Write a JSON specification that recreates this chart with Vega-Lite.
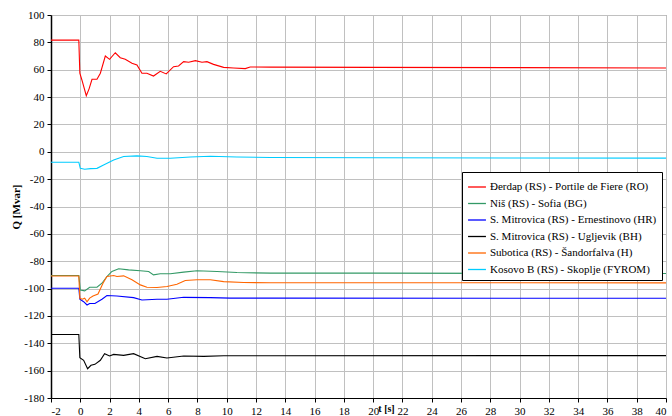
{
  "$schema": "https://vega.github.io/schema/vega-lite/v6.json",
  "width": 615,
  "height": 383,
  "autosize": {"type": "none"},
  "padding": {"left": 51, "top": 15, "right": 6, "bottom": 18},
  "background": "white",
  "config": {
    "view": {"stroke": "#808080", "strokeWidth": 1},
    "font": "Liberation Serif"
  },
  "datasets": {
    "d": [
      {"t": -2, "q": 81.6, "s": "Đerdap (RS) - Portile de Fiere (RO)"},
      {"t": -0.1, "q": 81.6, "s": "Đerdap (RS) - Portile de Fiere (RO)"},
      {"t": -0.03, "q": 57.4, "s": "Đerdap (RS) - Portile de Fiere (RO)"},
      {"t": 0.11, "q": 52.5, "s": "Đerdap (RS) - Portile de Fiere (RO)"},
      {"t": 0.41, "q": 41, "s": "Đerdap (RS) - Portile de Fiere (RO)"},
      {"t": 0.6, "q": 46, "s": "Đerdap (RS) - Portile de Fiere (RO)"},
      {"t": 0.8, "q": 53, "s": "Đerdap (RS) - Portile de Fiere (RO)"},
      {"t": 1.14, "q": 53, "s": "Đerdap (RS) - Portile de Fiere (RO)"},
      {"t": 1.37, "q": 57.4, "s": "Đerdap (RS) - Portile de Fiere (RO)"},
      {"t": 1.71, "q": 70, "s": "Đerdap (RS) - Portile de Fiere (RO)"},
      {"t": 2.0, "q": 67.6, "s": "Đerdap (RS) - Portile de Fiere (RO)"},
      {"t": 2.39, "q": 72.4, "s": "Đerdap (RS) - Portile de Fiere (RO)"},
      {"t": 2.73, "q": 68.8, "s": "Đerdap (RS) - Portile de Fiere (RO)"},
      {"t": 3.07, "q": 67.6, "s": "Đerdap (RS) - Portile de Fiere (RO)"},
      {"t": 3.53, "q": 64.7, "s": "Đerdap (RS) - Portile de Fiere (RO)"},
      {"t": 3.87, "q": 63.5, "s": "Đerdap (RS) - Portile de Fiere (RO)"},
      {"t": 4.21, "q": 57.4, "s": "Đerdap (RS) - Portile de Fiere (RO)"},
      {"t": 4.55, "q": 57.4, "s": "Đerdap (RS) - Portile de Fiere (RO)"},
      {"t": 5.0, "q": 55.4, "s": "Đerdap (RS) - Portile de Fiere (RO)"},
      {"t": 5.46, "q": 58.8, "s": "Đerdap (RS) - Portile de Fiere (RO)"},
      {"t": 5.87, "q": 56.9, "s": "Đerdap (RS) - Portile de Fiere (RO)"},
      {"t": 6.37, "q": 62.2, "s": "Đerdap (RS) - Portile de Fiere (RO)"},
      {"t": 6.71, "q": 62.7, "s": "Đerdap (RS) - Portile de Fiere (RO)"},
      {"t": 7.06, "q": 65.9, "s": "Đerdap (RS) - Portile de Fiere (RO)"},
      {"t": 7.4, "q": 65.5, "s": "Đerdap (RS) - Portile de Fiere (RO)"},
      {"t": 7.86, "q": 66.6, "s": "Đerdap (RS) - Portile de Fiere (RO)"},
      {"t": 8.31, "q": 65.5, "s": "Đerdap (RS) - Portile de Fiere (RO)"},
      {"t": 8.65, "q": 65.9, "s": "Đerdap (RS) - Portile de Fiere (RO)"},
      {"t": 9.1, "q": 63.9, "s": "Đerdap (RS) - Portile de Fiere (RO)"},
      {"t": 9.79, "q": 61.7, "s": "Đerdap (RS) - Portile de Fiere (RO)"},
      {"t": 10.47, "q": 61.2, "s": "Đerdap (RS) - Portile de Fiere (RO)"},
      {"t": 11.27, "q": 60.8, "s": "Đerdap (RS) - Portile de Fiere (RO)"},
      {"t": 11.6, "q": 62.0, "s": "Đerdap (RS) - Portile de Fiere (RO)"},
      {"t": 13, "q": 61.9, "s": "Đerdap (RS) - Portile de Fiere (RO)"},
      {"t": 20, "q": 61.7, "s": "Đerdap (RS) - Portile de Fiere (RO)"},
      {"t": 30, "q": 61.5, "s": "Đerdap (RS) - Portile de Fiere (RO)"},
      {"t": 40, "q": 61.3, "s": "Đerdap (RS) - Portile de Fiere (RO)"},

      {"t": -2, "q": -90.4, "s": "Niš (RS) - Sofia (BG)"},
      {"t": -0.1, "q": -90.4, "s": "Niš (RS) - Sofia (BG)"},
      {"t": 0, "q": -101, "s": "Niš (RS) - Sofia (BG)"},
      {"t": 0.3, "q": -101.7, "s": "Niš (RS) - Sofia (BG)"},
      {"t": 0.64, "q": -99, "s": "Niš (RS) - Sofia (BG)"},
      {"t": 1.14, "q": -99, "s": "Niš (RS) - Sofia (BG)"},
      {"t": 1.48, "q": -96.1, "s": "Niš (RS) - Sofia (BG)"},
      {"t": 1.82, "q": -91.2, "s": "Niš (RS) - Sofia (BG)"},
      {"t": 2.16, "q": -87.5, "s": "Niš (RS) - Sofia (BG)"},
      {"t": 2.62, "q": -85.5, "s": "Niš (RS) - Sofia (BG)"},
      {"t": 3.3, "q": -86.3, "s": "Niš (RS) - Sofia (BG)"},
      {"t": 4.1, "q": -87, "s": "Niš (RS) - Sofia (BG)"},
      {"t": 4.67, "q": -87.5, "s": "Niš (RS) - Sofia (BG)"},
      {"t": 5.0, "q": -90, "s": "Niš (RS) - Sofia (BG)"},
      {"t": 5.46, "q": -89.2, "s": "Niš (RS) - Sofia (BG)"},
      {"t": 6.15, "q": -89.2, "s": "Niš (RS) - Sofia (BG)"},
      {"t": 7.06, "q": -88, "s": "Niš (RS) - Sofia (BG)"},
      {"t": 7.97, "q": -87, "s": "Niš (RS) - Sofia (BG)"},
      {"t": 9.34, "q": -87.5, "s": "Niš (RS) - Sofia (BG)"},
      {"t": 10.7, "q": -88.3, "s": "Niš (RS) - Sofia (BG)"},
      {"t": 13, "q": -88.7, "s": "Niš (RS) - Sofia (BG)"},
      {"t": 20, "q": -88.7, "s": "Niš (RS) - Sofia (BG)"},
      {"t": 30, "q": -88.9, "s": "Niš (RS) - Sofia (BG)"},
      {"t": 40, "q": -89, "s": "Niš (RS) - Sofia (BG)"},

      {"t": -2, "q": -99.8, "s": "S. Mitrovica (RS) - Ernestinovo (HR)"},
      {"t": -0.1, "q": -99.8, "s": "S. Mitrovica (RS) - Ernestinovo (HR)"},
      {"t": -0.03, "q": -107.8, "s": "S. Mitrovica (RS) - Ernestinovo (HR)"},
      {"t": 0.23, "q": -109.6, "s": "S. Mitrovica (RS) - Ernestinovo (HR)"},
      {"t": 0.46, "q": -112, "s": "S. Mitrovica (RS) - Ernestinovo (HR)"},
      {"t": 0.64, "q": -110.9, "s": "S. Mitrovica (RS) - Ernestinovo (HR)"},
      {"t": 1.0, "q": -110.9, "s": "S. Mitrovica (RS) - Ernestinovo (HR)"},
      {"t": 1.48, "q": -107.8, "s": "S. Mitrovica (RS) - Ernestinovo (HR)"},
      {"t": 1.82, "q": -105.1, "s": "S. Mitrovica (RS) - Ernestinovo (HR)"},
      {"t": 2.5, "q": -105.4, "s": "S. Mitrovica (RS) - Ernestinovo (HR)"},
      {"t": 3.64, "q": -106.6, "s": "S. Mitrovica (RS) - Ernestinovo (HR)"},
      {"t": 4.21, "q": -108.3, "s": "S. Mitrovica (RS) - Ernestinovo (HR)"},
      {"t": 5.24, "q": -107.8, "s": "S. Mitrovica (RS) - Ernestinovo (HR)"},
      {"t": 5.92, "q": -107.8, "s": "S. Mitrovica (RS) - Ernestinovo (HR)"},
      {"t": 7.06, "q": -106.4, "s": "S. Mitrovica (RS) - Ernestinovo (HR)"},
      {"t": 8.88, "q": -106.6, "s": "S. Mitrovica (RS) - Ernestinovo (HR)"},
      {"t": 10.25, "q": -107, "s": "S. Mitrovica (RS) - Ernestinovo (HR)"},
      {"t": 13, "q": -107, "s": "S. Mitrovica (RS) - Ernestinovo (HR)"},
      {"t": 40, "q": -107.1, "s": "S. Mitrovica (RS) - Ernestinovo (HR)"},

      {"t": -2, "q": -133.6, "s": "S. Mitrovica (RS) - Ugljevik (BH)"},
      {"t": -0.1, "q": -133.6, "s": "S. Mitrovica (RS) - Ugljevik (BH)"},
      {"t": -0.03, "q": -150.5, "s": "S. Mitrovica (RS) - Ugljevik (BH)"},
      {"t": 0.23, "q": -152.4, "s": "S. Mitrovica (RS) - Ugljevik (BH)"},
      {"t": 0.5, "q": -158.6, "s": "S. Mitrovica (RS) - Ugljevik (BH)"},
      {"t": 0.73, "q": -156.1, "s": "S. Mitrovica (RS) - Ugljevik (BH)"},
      {"t": 1.0, "q": -155.4, "s": "S. Mitrovica (RS) - Ugljevik (BH)"},
      {"t": 1.37, "q": -152.4, "s": "S. Mitrovica (RS) - Ugljevik (BH)"},
      {"t": 1.66, "q": -147.6, "s": "S. Mitrovica (RS) - Ugljevik (BH)"},
      {"t": 2.0, "q": -149.3, "s": "S. Mitrovica (RS) - Ugljevik (BH)"},
      {"t": 2.28, "q": -148.1, "s": "S. Mitrovica (RS) - Ugljevik (BH)"},
      {"t": 2.96, "q": -148.8, "s": "S. Mitrovica (RS) - Ugljevik (BH)"},
      {"t": 3.64, "q": -147.6, "s": "S. Mitrovica (RS) - Ugljevik (BH)"},
      {"t": 4.44, "q": -151.3, "s": "S. Mitrovica (RS) - Ugljevik (BH)"},
      {"t": 5.24, "q": -149.6, "s": "S. Mitrovica (RS) - Ugljevik (BH)"},
      {"t": 5.92, "q": -150.8, "s": "S. Mitrovica (RS) - Ugljevik (BH)"},
      {"t": 7.06, "q": -149.3, "s": "S. Mitrovica (RS) - Ugljevik (BH)"},
      {"t": 8.43, "q": -149.6, "s": "S. Mitrovica (RS) - Ugljevik (BH)"},
      {"t": 9.79, "q": -149.1, "s": "S. Mitrovica (RS) - Ugljevik (BH)"},
      {"t": 13, "q": -149.1, "s": "S. Mitrovica (RS) - Ugljevik (BH)"},
      {"t": 40, "q": -149, "s": "S. Mitrovica (RS) - Ugljevik (BH)"},

      {"t": -2, "q": -90.8, "s": "Subotica (RS) - Šandorfalva (H)"},
      {"t": -0.1, "q": -90.8, "s": "Subotica (RS) - Šandorfalva (H)"},
      {"t": -0.03, "q": -107.1, "s": "Subotica (RS) - Šandorfalva (H)"},
      {"t": 0.14, "q": -107.8, "s": "Subotica (RS) - Šandorfalva (H)"},
      {"t": 0.3, "q": -107, "s": "Subotica (RS) - Šandorfalva (H)"},
      {"t": 0.46, "q": -109.6, "s": "Subotica (RS) - Šandorfalva (H)"},
      {"t": 0.64, "q": -107, "s": "Subotica (RS) - Šandorfalva (H)"},
      {"t": 0.87, "q": -105.4, "s": "Subotica (RS) - Šandorfalva (H)"},
      {"t": 1.21, "q": -104, "s": "Subotica (RS) - Šandorfalva (H)"},
      {"t": 1.55, "q": -96.1, "s": "Subotica (RS) - Šandorfalva (H)"},
      {"t": 1.82, "q": -91.2, "s": "Subotica (RS) - Šandorfalva (H)"},
      {"t": 2.28, "q": -90.5, "s": "Subotica (RS) - Šandorfalva (H)"},
      {"t": 2.5, "q": -91.2, "s": "Subotica (RS) - Šandorfalva (H)"},
      {"t": 2.96, "q": -90.7, "s": "Subotica (RS) - Šandorfalva (H)"},
      {"t": 3.53, "q": -93.6, "s": "Subotica (RS) - Šandorfalva (H)"},
      {"t": 4.1, "q": -97.3, "s": "Subotica (RS) - Šandorfalva (H)"},
      {"t": 4.55, "q": -99, "s": "Subotica (RS) - Šandorfalva (H)"},
      {"t": 5.24, "q": -99.2, "s": "Subotica (RS) - Šandorfalva (H)"},
      {"t": 5.92, "q": -98.5, "s": "Subotica (RS) - Šandorfalva (H)"},
      {"t": 6.6, "q": -96.8, "s": "Subotica (RS) - Šandorfalva (H)"},
      {"t": 7.17, "q": -94.1, "s": "Subotica (RS) - Šandorfalva (H)"},
      {"t": 7.97, "q": -93.6, "s": "Subotica (RS) - Šandorfalva (H)"},
      {"t": 8.88, "q": -93.6, "s": "Subotica (RS) - Šandorfalva (H)"},
      {"t": 9.79, "q": -94.9, "s": "Subotica (RS) - Šandorfalva (H)"},
      {"t": 11.15, "q": -95.6, "s": "Subotica (RS) - Šandorfalva (H)"},
      {"t": 13, "q": -95.7, "s": "Subotica (RS) - Šandorfalva (H)"},
      {"t": 40, "q": -95.8, "s": "Subotica (RS) - Šandorfalva (H)"},

      {"t": -2, "q": -7.6, "s": "Kosovo B (RS) - Skoplje (FYROM)"},
      {"t": -0.1, "q": -7.6, "s": "Kosovo B (RS) - Skoplje (FYROM)"},
      {"t": 0, "q": -12.1, "s": "Kosovo B (RS) - Skoplje (FYROM)"},
      {"t": 0.3, "q": -12.8, "s": "Kosovo B (RS) - Skoplje (FYROM)"},
      {"t": 0.7, "q": -12.3, "s": "Kosovo B (RS) - Skoplje (FYROM)"},
      {"t": 1.14, "q": -12.1, "s": "Kosovo B (RS) - Skoplje (FYROM)"},
      {"t": 1.59, "q": -9.6, "s": "Kosovo B (RS) - Skoplje (FYROM)"},
      {"t": 2.28, "q": -6.0, "s": "Kosovo B (RS) - Skoplje (FYROM)"},
      {"t": 2.96, "q": -3.5, "s": "Kosovo B (RS) - Skoplje (FYROM)"},
      {"t": 3.87, "q": -3.0, "s": "Kosovo B (RS) - Skoplje (FYROM)"},
      {"t": 4.55, "q": -3.5, "s": "Kosovo B (RS) - Skoplje (FYROM)"},
      {"t": 5.24, "q": -4.7, "s": "Kosovo B (RS) - Skoplje (FYROM)"},
      {"t": 6.15, "q": -4.7, "s": "Kosovo B (RS) - Skoplje (FYROM)"},
      {"t": 7.51, "q": -3.8, "s": "Kosovo B (RS) - Skoplje (FYROM)"},
      {"t": 8.88, "q": -3.3, "s": "Kosovo B (RS) - Skoplje (FYROM)"},
      {"t": 10.7, "q": -3.8, "s": "Kosovo B (RS) - Skoplje (FYROM)"},
      {"t": 13, "q": -4.2, "s": "Kosovo B (RS) - Skoplje (FYROM)"},
      {"t": 20, "q": -4.4, "s": "Kosovo B (RS) - Skoplje (FYROM)"},
      {"t": 30, "q": -4.5, "s": "Kosovo B (RS) - Skoplje (FYROM)"},
      {"t": 40, "q": -4.6, "s": "Kosovo B (RS) - Skoplje (FYROM)"}
    ]
  },
  "data": {"name": "d"},
  "mark": {"type": "line", "strokeWidth": 1.1, "clip": true},
  "encoding": {
    "x": {
      "field": "t",
      "type": "quantitative",
      "scale": {"domain": [-2, 40], "nice": false, "zero": false},
      "axis": {
        "values": [-2, 0, 2, 4, 6, 8, 10, 12, 14, 16, 18, 20, 22, 24, 26, 28, 30, 32, 34, 36, 38, 40],
        "labelExpr": "datum.value < 0 ? '-' + abs(datum.value) : '' + datum.value",
        "title": "t [s]",
        "titleFont": "Liberation Serif",
        "titleFontSize": 10,
        "titleFontWeight": "bold",
        "titleColor": "#000",
        "titleY": 13,
        "titleX": 335,
        "titleAnchor": "middle",
        "titleAlign": "center",
        "titleBaseline": "alphabetic",
        "labelFont": "Liberation Serif",
        "labelFontSize": 11,
        "labelColor": "#000",
        "labelPadding": 3,
        "labelOverlap": false,
        "domainColor": "#000",
        "tickColor": "#000",
        "tickSize": 4,
        "gridColor": "#c0c0c0",
        "gridWidth": 1,
        "grid": true
      }
    },
    "y": {
      "field": "q",
      "type": "quantitative",
      "scale": {"domain": [-180, 100], "nice": false, "zero": false},
      "axis": {
        "values": [-180, -160, -140, -120, -100, -80, -60, -40, -20, 0, 20, 40, 60, 80, 100],
        "labelExpr": "datum.value < 0 ? '-' + abs(datum.value) : '' + datum.value",
        "title": "Q [Mvar]",
        "titleFont": "Liberation Serif",
        "titleFontSize": 11,
        "titleFontWeight": "bold",
        "titleColor": "#000",
        "titleX": -30,
        "labelFont": "Liberation Serif",
        "labelFontSize": 11,
        "labelColor": "#000",
        "labelPadding": 3,
        "domainColor": "#000",
        "domainWidth": 1.5,
        "tickColor": "#000",
        "tickSize": 4,
        "gridColor": "#c0c0c0",
        "gridWidth": 1,
        "grid": true
      }
    },
    "color": {
      "field": "s",
      "type": "nominal",
      "scale": {
        "domain": [
          "Đerdap (RS) - Portile de Fiere (RO)",
          "Niš (RS) - Sofia (BG)",
          "S. Mitrovica (RS) - Ernestinovo (HR)",
          "S. Mitrovica (RS) - Ugljevik (BH)",
          "Subotica (RS) - Šandorfalva (H)",
          "Kosovo B (RS) - Skoplje (FYROM)"
        ],
        "range": ["#ff0000", "#339966", "#0000ff", "#000000", "#ff6600", "#00ccff"]
      },
      "legend": {
        "title": null,
        "orient": "none",
        "legendX": 411,
        "legendY": 157,
        "fillColor": "white",
        "strokeColor": "#000",
        "padding": 5,
        "symbolType": "stroke",
        "symbolSize": 320,
        "symbolStrokeWidth": 1.3,
        "labelFont": "Liberation Serif",
        "labelFontSize": 11,
        "labelColor": "#000",
        "labelLimit": 300,
        "rowPadding": 1.5,
        "labelOffset": 3
      }
    }
  }
}
